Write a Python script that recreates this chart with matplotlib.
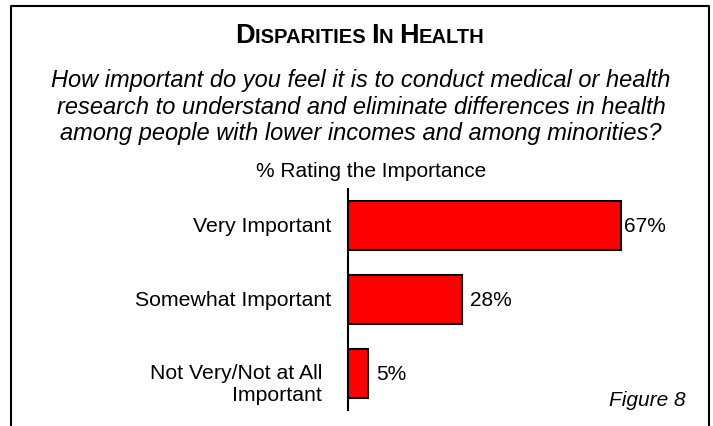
import matplotlib
matplotlib.use("Agg")
import matplotlib.pyplot as plt
from matplotlib.lines import Line2D
from matplotlib.offsetbox import TextArea, HPacker, AnnotationBbox
import matplotlib.transforms as mtransforms

plt.rcParams['font.family'] = ['Liberation Sans', 'DejaVu Sans']

# data
categories = ['Very Important', 'Somewhat Important', 'Not Very/Not at All\nImportant']
values = [67, 28, 5]
value_labels = ['67%', '28%', '5%']
title_parts = [('D', 19.5), ('ISPARITIES ', 14.5), ('I', 19.5), ('N ', 14.5), ('H', 19.5), ('EALTH', 14.5)]
question = ('How important do you feel it is to conduct medical or health\n'
            'research to understand and eliminate differences in health\n'
            'among people with lower incomes and among minorities?')
subtitle = '% Rating the Importance'
footnote = 'Figure 8'

W, H = 713, 427
fig = plt.figure(figsize=(W / 100, H / 100), dpi=100)

# frame round the figure (open at the bottom)
fx = lambda px: px / W
fy = lambda py: 1 - py / H
fig.add_artist(Line2D([fx(11), fx(11), fx(709), fx(709)],
                      [fy(440), fy(7), fy(7), fy(440)],
                      transform=fig.transFigure, color='black', lw=1.5))

# title in small caps
pieces = [TextArea(t, textprops=dict(fontsize=s, fontweight='bold', color='black'))
          for t, s in title_parts]
pack = HPacker(children=pieces, align='baseline', pad=0, sep=0)
fig.add_artist(AnnotationBbox(pack, (fx(360), fy(36)), xycoords='figure fraction',
                              frameon=False, box_alignment=(0.5, 0.5)))

fig.text(fx(361), fy(107), question, ha='center', va='center', fontsize=17,
         style='italic', linespacing=1.2)
fig.text(fx(371), fy(172), subtitle, ha='center', va='center', fontsize=15)
fig.text(fx(686), fy(401), footnote, ha='right', va='center', fontsize=15, style='italic')

# bars
ax = fig.add_axes([fx(348), fy(411), (85 * 4.08) / W, (411 - 190) / H])
ypos = list(range(len(categories)))
ax.barh(ypos, values, height=0.665, color='#ff0000', edgecolor='black', linewidth=1.5)
ax.set_xlim(0, 85)
ax.set_ylim(len(categories) - 0.5, -0.5)
for s in ['top', 'right', 'bottom']:
    ax.spines[s].set_visible(False)
ax.spines['left'].set_linewidth(1.5)
ax.set_xticks([])
ax.set_yticks([])

# category labels left of the axis
label_shift = [(-17, 0), (-17, 0), (-26, -10)]
for y, lab, (dx, dy) in zip(ypos, categories, label_shift):
    tr = ax.get_yaxis_transform() + mtransforms.ScaledTranslation(dx / 100, dy / 100, fig.dpi_scale_trans)
    ax.text(0, y, lab, transform=tr, ha='right', va='center', fontsize=15.3,
            multialignment='right', linespacing=1.2)

# value labels
value_pad = [2.2, 5.8, 5.8]
for y, v, lab, p in zip(ypos, values, value_labels, value_pad):
    ax.annotate(lab, (v, y), xytext=(p, 0), textcoords='offset points',
                ha='left', va='center', fontsize=15)

fig.savefig('out.png', dpi=100)
